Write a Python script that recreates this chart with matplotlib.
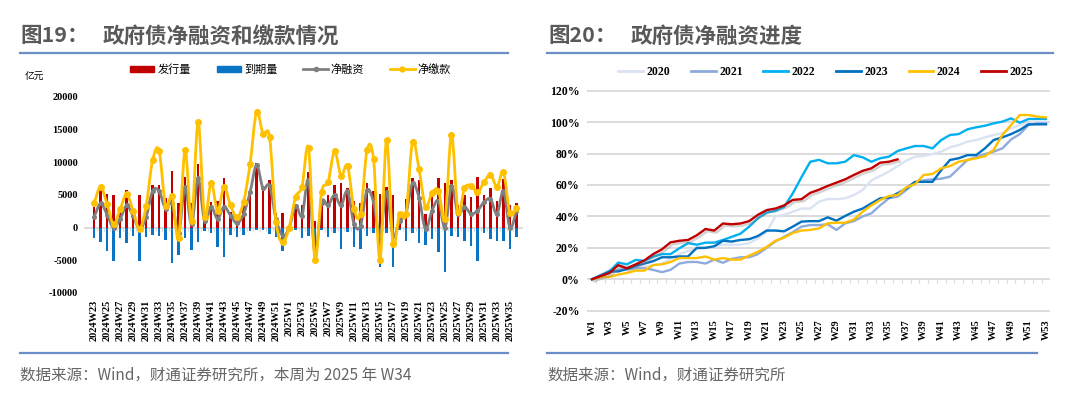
import numpy as np
import matplotlib
matplotlib.use("Agg")
import matplotlib.pyplot as plt
from matplotlib.path import Path
from matplotlib.patches import PathPatch, Patch
from matplotlib.lines import Line2D
from matplotlib.ticker import FuncFormatter
import matplotlib.patheffects as pe

plt.rcParams['font.family'] = ['Noto Sans CJK SC', 'DejaVu Sans']
plt.rcParams['axes.unicode_minus'] = False

# ---------------- data: left chart (亿元) ----------------
weeks = [f"2024W{w}" for w in range(23, 53)] + [f"2025W{w}" for w in range(1, 37)]

issuance = [3200, 6000, 5100, 5000, 2400, 5700, 2000, 5000, 2600, 6600,
            6600, 4600, 8700, 3700, 7800, 3800, 9700, 1300, 3950, 4150,
            7600, 2400, 2000, 3400, 5800, 9950, 6200, 7350, 2200, 2300,
            300, 3600, 3500, 8500, 1000, 4000, 5050, 6600, 6800, 6100,
            4100, 3700, 6800, 5600, 5150, 6300, 5000, 2100, 4350, 7600,
            7350, 2100, 4850, 7550, 6800, 7350, 3400, 5050, 4750, 7700,
            5000, 6000, 4150, 7450, 3400, 3800]

maturity = [-1650, -2250, -3600, -5100, -1600, -2400, -1200, -5150, -1380, -1170,
            -1230, -1900, -5350, -4250, -1600, -3400, -2250, -460, -750, -2900,
            -4550, -1170, -1450, -1150, -560, -400, -340, -1000, -1480, -3520,
            -400, -300, -1580, -1220, -5050, -360, -1480, -870, -3270, -710,
            -3010, -3270, -1220, -820, -6070, -870, -6070, -300, -2090, -870,
            -2400, -2600, -1730, -3780, -6840, -1220, -1480, -1990, -2760, -5150,
            -820, -1730, -2090, -2090, -3270, -1480]

net_financing = [1600, 3700, 2000, 0, 1300, 3400, 1800, -200, 1600, 5600,
                 5600, 2900, 3800, -800, 6200, 500, 7600, 1000, 3200, 1350,
                 3200, 1850, 670, 2100, 5400, 9600, 6000, 6450, 1300, -1200,
                 -100, 3350, 1850, 7300, -4000, 3850, 3400, 5000, 3400, 5600,
                 600, 300, 5700, 3900, -1200, 5500, -1200, 1000, 2200, 6800,
                 4600, -200, 2600, 4100, 0, 6400, 2100, 3200, 2100, 2600,
                 3900, 4400, 2100, 5600, 0, 2600]

net_payment = [3750, 6250, 3600, 500, 2800, 5100, 2600, -200, 3300, 10300,
               11800, 3300, 4800, -1600, 11900, 1000, 16100, 1700, 6900, 2600,
               6200, 3400, 1600, 3950, 9700, 17700, 14300, 13900, 900, -2250,
               0, 4640, 6280, 12190, -4950, 5400, 6940, 11680, 7960, 9490,
               2860, 2090, 11850, 10500, -4900, 13420, -2500, 2100, 2100, 13160,
               8980, 3210, 5360, 5660, 1330, 14230, 2350, 6070, 6430, 5400,
               6940, 8110, 6280, 8470, 2190, 3010]

left_legend = ["发行量", "到期量", "净融资", "净缴款"]

# ---------------- data: right chart (%) ----------------
week_labels = [f"W{w}" for w in range(1, 54)]

p2020 = [0, 3, 6, 8, 8, 8, 8, 9, 10, 13,
         16, 18, 19, 20, 21, 22, 22, 22, 23, 26,
         30, 40, 41, 43, 45, 45, 49.4, 51, 51, 51.5,
         53.6, 56.8, 63, 65.7, 68.5, 72, 75.5, 78, 78.4, 79.7,
         81.2, 84, 85.4, 87.6, 88.6, 90.3, 91.8, 92.9, 96, 98.2,
         99.2, 100, 100]
p2021 = [0, 2, 4, 6, 6.5, 7, 7, 6, 4.5, 6,
         10, 11, 11, 10, 12.5, 10.5, 13, 14, 14, 16,
         20, 24, 27, 30, 33.5, 34.5, 34.5, 35, 31.4, 35.6,
         37, 40, 42, 47, 51.5, 52.6, 56.8, 61.5, 63, 63.6,
         64, 65.3, 70.6, 75.9, 77.6, 79.7, 81.2, 83.3, 89, 92.4,
         98.2, 99.2, 99.2]
p2022 = [0, 2, 5, 10.6, 9.5, 12.3, 11.7, 14.4, 16, 16,
         19.7, 23, 22, 23.3, 23.3, 25, 27, 29, 33.5, 38.8,
         42.4, 43.5, 46, 54.7, 65, 74.8, 76, 73.8, 73.8, 74.8,
         79, 77.6, 74.8, 77, 78, 81.6, 83.3, 84.8, 84.8, 83.3,
         88.6, 91.8, 92.4, 95.4, 96.7, 97.7, 99.2, 100.3, 102.4, 99.6,
         102, 102, 102]
p2023 = [0, 2.5, 5, 5, 6.5, 8.5, 10, 11.5, 14, 14,
         14.5, 14.5, 20, 20, 21, 24.5, 24, 25, 25.5, 27.5,
         31, 31, 30.5, 33.5, 36.7, 37, 37, 39.4, 37.3, 40.3,
         43, 45, 48.3, 51.5, 52, 54.7, 57.9, 62, 62, 62,
         69.5, 75.9, 77, 79, 79, 83.3, 88.6, 90.3, 92.4, 95,
         98.6, 98.6, 98.6]
p2024 = [0, 1.5, 1.5, 3, 4, 5.5, 5.5, 9, 9.5, 11,
         13.5, 13.5, 13.5, 14.5, 12.5, 13.5, 12.5, 12.5, 15, 17.5,
         20.5, 24.5, 26.5, 29.5, 31, 31.4, 32.4, 35.6, 36, 36,
         38, 43, 47, 50.4, 53, 53.6, 58.5, 60.6, 66.4, 67,
         70.6, 72, 74.8, 75.9, 77, 78.4, 82.3, 91.8, 98.2, 104.5,
         104.5, 103.5, 103]
p2025 = [0, 2, 4, 9, 7, 9.5, 12, 16, 19, 23.5,
         24.5, 25, 28, 32, 31, 35.5, 35, 35.5, 37, 41,
         44, 45, 47, 50.5, 51, 55, 57, 59.4, 61.5, 63.6,
         66.4, 69, 70.6, 74.2, 74.8, 76.3]

years = ["2020", "2021", "2022", "2023", "2024", "2025"]

# ---------------- styling ----------------
W, H = 1080, 395
TITLE_C = '#595959'
RULE_C = '#6A8FC6'
GRID_C = '#D9D9D9'
SERIF_B = dict(family='Liberation Serif', weight='bold')


def fx(px):
    return px / W


def fy(py):
    return 1 - py / H


def smooth_path(xs, ys):
    xs = np.asarray(xs, float)
    ys = np.asarray(ys, float)
    n = len(xs)
    verts = [(xs[0], ys[0])]
    codes = [Path.MOVETO]
    for i in range(n - 1):
        xa, ya = (xs[i - 1], ys[i - 1]) if i > 0 else (xs[i], ys[i])
        xd, yd = (xs[i + 2], ys[i + 2]) if i + 2 < n else (xs[i + 1], ys[i + 1])
        c1 = (xs[i] + (xs[i + 1] - xa) / 6, ys[i] + (ys[i + 1] - ya) / 6)
        c2 = (xs[i + 1] - (xd - xs[i]) / 6, ys[i + 1] - (yd - ys[i]) / 6)
        verts += [c1, c2, (xs[i + 1], ys[i + 1])]
        codes += [Path.CURVE4] * 3
    return Path(verts, codes)


fig = plt.figure(figsize=(W / 100, H / 100), dpi=100)
fig.patch.set_facecolor('white')

# ---------- titles, rules, sources ----------
for x0, num, txt in [(20, "图19：", "政府债净融资和缴款情况"), (548, "图20：", "政府债净融资进度")]:
    fig.text(fx(x0), fy(36), num, fontsize=15.5, weight='bold', color=TITLE_C, va='center', ha='left')
    fig.text(fx(x0 + 83), fy(36), txt, fontsize=15.5, weight='bold', color=TITLE_C, va='center', ha='left')

for (xa, xb) in [(20, 508), (547, 1053)]:
    fig.add_artist(Line2D([fx(xa), fx(xb)], [fy(52.7)] * 2, color=RULE_C, lw=1.6,
                          transform=fig.transFigure))
for (xa, xb) in [(20, 508), (547, 1037)]:
    fig.add_artist(Line2D([fx(xa), fx(xb)], [fy(353.3)] * 2, color=RULE_C, lw=1.6,
                          transform=fig.transFigure))

fig.text(fx(20), fy(375), "数据来源：Wind，财通证券研究所，本周为 2025 年 W34",
         fontsize=11.2, color='#666666', va='center', ha='left')
fig.text(fx(547), fy(375), "数据来源：Wind，财通证券研究所",
         fontsize=11.2, color='#666666', va='center', ha='left')

# ---------- left chart ----------
axL = fig.add_axes([fx(85), fy(293), fx(522) - fx(85), fy(97) - fy(293)])
xl = np.arange(len(weeks))
axL.bar(xl, issuance, width=0.42, color='#C00000', zorder=2)
axL.bar(xl, maturity, width=0.42, color='#0A74C4', zorder=2)

pg = PathPatch(smooth_path(xl, net_financing), fill=False, edgecolor='#7F7F7F', lw=2.0,
               zorder=3, capstyle='round', joinstyle='round')
axL.add_patch(pg)
axL.plot(xl, net_financing, linestyle='none', marker='o', ms=2.6, color='#7F7F7F', zorder=3)

py = PathPatch(smooth_path(xl, net_payment), fill=False, edgecolor='#FFC000', lw=2.0,
               zorder=4, capstyle='round', joinstyle='round')
axL.add_patch(py)
axL.plot(xl, net_payment, linestyle='none', marker='o', ms=4, color='#FFC000', zorder=4)

axL.set_xlim(-1.4, len(weeks) - 0.15)
axL.set_ylim(-10000, 20000)
axL.set_yticks(np.arange(-10000, 20001, 5000))
axL.set_xticks(xl[::2])
axL.set_xticklabels(weeks[::2], rotation=90, fontdict=dict(size=7.5, **SERIF_B))
for lab in axL.get_yticklabels():
    lab.set_fontproperties(dict(size=7.5, **SERIF_B))
axL.tick_params(axis='y', length=0, pad=5)
axL.tick_params(axis='x', length=0, pad=5)
for s in axL.spines.values():
    s.set_visible(False)
secL = axL.secondary_xaxis(1 / 3)
secL.set_xticks(xl[:-1] + 0.5)
secL.tick_params(axis='x', length=2.5, color=GRID_C, labelbottom=False, labeltop=False)
secL.spines['bottom'].set_color(GRID_C)
secL.spines['bottom'].set_linewidth(1.3)

fig.text(fx(25), fy(77), "亿元", fontsize=7, va='center', ha='left', color='#000000')

hL = [Patch(color='#C00000'), Patch(color='#0A74C4'),
      Line2D([], [], color='#7F7F7F', lw=2, marker='o', ms=3),
      Line2D([], [], color='#FFC000', lw=2, marker='o', ms=3.5)]
fig.legend(hL, left_legend, loc='center left', bbox_to_anchor=(fx(130), fy(69.3)),
           ncol=4, frameon=False, fontsize=8, handlelength=2.2, handleheight=0.5,
           handletextpad=0.25, columnspacing=2.35, borderpad=0, borderaxespad=0)

# ---------- right chart ----------
axR = fig.add_axes([fx(588), fy(310.7), fx(1049) - fx(588), fy(90.7) - fy(310.7)])
xr = np.arange(1, 54)
colors = ['#DAE3F3', '#8FAADC', '#00B0F0', '#0070C0', '#FFC000', '#C00000']
series = [p2020, p2021, p2022, p2023, p2024, p2025]
for name, vals, c in zip(years, series, colors):
    kw = {}
    if name == '2025':
        kw['path_effects'] = [pe.SimpleLineShadow(offset=(1.5, -1.5), shadow_color='#7F7F7F', alpha=0.35),
                              pe.Normal()]
    axR.plot(xr[:len(vals)], vals, color=c, lw=1.7, label=name, zorder=3, **kw)

axR.set_xlim(1 - 4 / 8.73, 53 + 3 / 8.73)
axR.set_ylim(-20, 120)
axR.set_yticks(np.arange(-20, 121, 20))
axR.yaxis.set_major_formatter(FuncFormatter(lambda v, p: f"{v:.0f}%"))
for v in np.arange(-20, 121, 20):
    if v != 0:
        axR.axhline(v, color=GRID_C, lw=1.3, zorder=1, clip_on=False)
axR.set_xticks(xr[::2])
axR.set_xticklabels(week_labels[::2], rotation=90, fontdict=dict(size=7.5, **SERIF_B))
for lab in axR.get_yticklabels():
    lab.set_fontproperties(dict(size=8.5, **SERIF_B))
axR.tick_params(axis='y', length=0, pad=6)
axR.tick_params(axis='x', length=0, pad=6)
for s in axR.spines.values():
    s.set_visible(False)
secR = axR.secondary_xaxis(20 / 140)
secR.set_xticks(np.arange(0.5, 54, 1.0))
secR.tick_params(axis='x', length=3, color=GRID_C, labelbottom=False, labeltop=False)
secR.spines['bottom'].set_color(GRID_C)
secR.spines['bottom'].set_linewidth(1.3)

hR = [Line2D([], [], color=c, lw=2) for c in colors]
fig.legend(hR, years, loc='center left', bbox_to_anchor=(fx(618), fy(71.7)),
           ncol=6, frameon=False, prop=dict(size=8.5, **SERIF_B), handlelength=2.1,
           handletextpad=0.3, columnspacing=1.75, borderpad=0, borderaxespad=0)

fig.savefig("out.png", dpi=100)
